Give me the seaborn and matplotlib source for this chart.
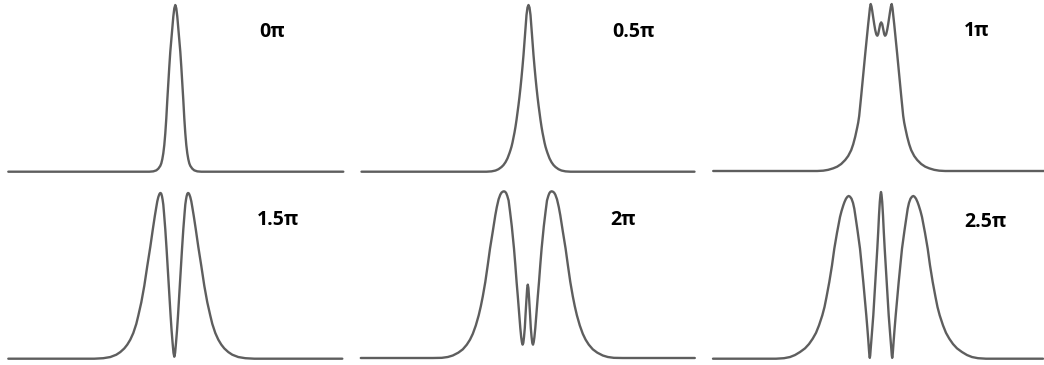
import pandas as pd
import matplotlib.pyplot as plt
import seaborn as sns

# Espectros normalizados para cada desfase no lineal
# x = desplazamiento de frecuencia (unidades arbitrarias), y = intensidad normalizada
x_0pi = [-167, -26, -22, -19, -17, -15, -14, -13, -12, -11, -10, -9, -8, -7, -6, -5, -4, -3, -2, -1,
         0,
         1, 2, 3, 4, 5, 6, 7, 8, 9, 10, 11, 12, 13, 14, 15, 17, 19, 22, 26, 168]
y_0pi = [0, 0, 0.002, 0.008, 0.018, 0.035, 0.05, 0.075, 0.11, 0.16, 0.23, 0.32, 0.43, 0.53, 0.63, 0.72, 0.79, 0.86, 0.93, 0.98,
         1.0,
         0.98, 0.93, 0.86, 0.79, 0.72, 0.63, 0.53, 0.43, 0.32, 0.23, 0.16, 0.11, 0.075, 0.05, 0.035, 0.018, 0.008, 0.002, 0, 0]

x_05pi = [-167, -42, -37, -33, -30, -27, -25, -23, -21, -19, -18, -17, -16, -15, -14, -13, -12, -11, -10, -9,
          -8, -7, -6, -5, -4, -3, -2, -1,
          0,
          1, 2, 3, 4, 5, 6, 7, 8, 9, 10, 11, 12, 13, 14, 15, 16, 17, 18, 19,
          21, 23, 25, 27, 30, 33, 37, 42, 166]
y_05pi = [0, 0, 0.002, 0.007, 0.015, 0.028, 0.04, 0.057, 0.08, 0.112, 0.13, 0.15, 0.175, 0.205, 0.235, 0.27, 0.31, 0.355, 0.40, 0.45,
          0.505, 0.565, 0.63, 0.70, 0.78, 0.86, 0.94, 0.985,
          1.0,
          0.985, 0.94, 0.86, 0.78, 0.70, 0.63, 0.565, 0.505, 0.45, 0.40, 0.355, 0.31, 0.27, 0.235, 0.205, 0.175, 0.15, 0.13, 0.112,
          0.08, 0.057, 0.04, 0.028, 0.015, 0.007, 0.002, 0, 0]

x_1pi = [-168, -64, -58, -53, -48, -44, -40, -36, -33, -30, -28, -26, -24, -23, -22, -21, -20, -18, -16, -14,
         -13, -12, -11.3, -10.5, -9.7, -9, -8, -7, -6, -5, -4.3, -3.8, -3, -2, -1,
         0,
         1, 2, 3, 3.8, 4.3, 5, 6, 7, 8, 9, 9.7, 10.5, 11.3, 12, 13,
         14, 16, 18, 20, 21, 22, 23, 24, 26, 28, 30, 33, 36, 40, 44, 48, 53, 58, 64, 163]
y_1pi = [0, 0, 0.002, 0.007, 0.016, 0.026, 0.042, 0.066, 0.09, 0.125, 0.16, 0.205, 0.26, 0.29, 0.33, 0.39, 0.45, 0.575, 0.70, 0.82,
         0.88, 0.935, 0.975, 1.0, 0.985, 0.96, 0.92, 0.88, 0.845, 0.82, 0.812, 0.81, 0.82, 0.85, 0.88,
         0.89,
         0.88, 0.85, 0.82, 0.81, 0.812, 0.82, 0.845, 0.88, 0.92, 0.96, 0.985, 1.0, 0.975, 0.935, 0.88,
         0.82, 0.70, 0.575, 0.45, 0.39, 0.33, 0.29, 0.26, 0.205, 0.16, 0.125, 0.09, 0.066, 0.042, 0.026, 0.016, 0.007, 0.002, 0, 0]

x_15pi = [-166, -80, -71, -64, -58, -54, -50, -47, -44, -41, -38, -36, -33, -30, -27, -24, -21.5, -19.5, -18, -17,
          -16, -15, -14.3, -13.7, -13, -12.3, -11.7, -11, -10.3, -9, -7.7, -6.7, -5.7, -4.7, -3.7, -2.7, -1.7, -0.8,
          0,
          0.8, 1.7, 2.7, 3.7, 4.7, 5.7, 6.7, 7.7, 9, 10.3, 11, 11.7, 12.3, 13, 13.7, 14.3, 15, 16,
          17, 18, 19.5, 21.5, 24, 27, 30, 33, 36, 38, 41, 44, 47, 50, 54, 58, 64, 71, 80, 168]
y_15pi = [0, 0, 0.003, 0.01, 0.024, 0.04, 0.062, 0.085, 0.115, 0.155, 0.21, 0.26, 0.34, 0.44, 0.56, 0.675, 0.78, 0.86, 0.915, 0.95,
          0.975, 0.992, 0.999, 1.0, 0.995, 0.98, 0.96, 0.93, 0.88, 0.78, 0.66, 0.56, 0.46, 0.36, 0.26, 0.17, 0.095, 0.035,
          0.012,
          0.035, 0.095, 0.17, 0.26, 0.36, 0.46, 0.56, 0.66, 0.78, 0.88, 0.93, 0.96, 0.98, 0.995, 1.0, 0.999, 0.992, 0.975,
          0.95, 0.915, 0.86, 0.78, 0.675, 0.56, 0.44, 0.34, 0.26, 0.21, 0.155, 0.115, 0.085, 0.062, 0.04, 0.024, 0.01, 0.003, 0, 0]

x_2pi = [-167, -95, -86, -80, -75, -69.5, -65, -61, -57.8, -55, -52, -49.1, -47, -45, -42.5, -40, -37.8, -35, -32.5, -31,
         -29.2, -27.5, -26.3, -25, -23.8, -22.6, -21.5, -20.5, -19.2, -17.8, -16, -13.8, -12.5, -11.2, -10, -8.5, -7.5, -6.6, -5.9, -5.2,
         -4.5, -3.8, -3, -2.3, -1.3, -0.6,
         0,
         0.6, 1.3, 2.3, 3, 3.8, 4.5,
         5.2, 5.9, 6.6, 7.5, 8.5, 10, 11.2, 12.5, 13.8, 16, 17.8, 19.2, 20.5, 21.5, 22.6, 23.8, 25, 26.3, 27.5, 29.2,
         31, 32.5, 35, 37.8, 40, 42.5, 45, 47, 49.1, 52, 55, 57.8, 61, 65, 69.5, 75, 80, 86, 95, 167]
y_2pi = [0, 0, 0.001, 0.006, 0.015, 0.032, 0.052, 0.08, 0.11, 0.145, 0.195, 0.256, 0.31, 0.37, 0.456, 0.56, 0.656, 0.76, 0.856, 0.905,
         0.952, 0.98, 0.992, 0.998, 1.0, 0.997, 0.988, 0.972, 0.945, 0.88, 0.79, 0.656, 0.56, 0.456, 0.37, 0.256, 0.18, 0.125, 0.095, 0.08,
         0.09, 0.125, 0.18, 0.256, 0.356, 0.42,
         0.44,
         0.42, 0.356, 0.256, 0.18, 0.125, 0.09,
         0.08, 0.095, 0.125, 0.18, 0.256, 0.37, 0.456, 0.56, 0.656, 0.79, 0.88, 0.945, 0.972, 0.988, 0.997, 1.0, 0.998, 0.992, 0.98, 0.952,
         0.905, 0.856, 0.76, 0.656, 0.56, 0.456, 0.37, 0.31, 0.256, 0.195, 0.145, 0.11, 0.08, 0.052, 0.032, 0.015, 0.006, 0.001, 0, 0]

x_25pi = [-168, -105, -97, -91, -86, -81, -76, -72, -68.3, -65, -62, -58.7, -56.5, -54.5, -51.7, -49, -46.7, -44, -41, -39.5,
          -37.7, -36.5, -35, -33.5, -32.3, -31, -29.5, -28, -26.7, -25.7, -23.5, -21, -19.5, -17.7, -16.2, -14.7, -13.6, -12.7,
          -12, -11.6, -11.2, -10.8, -10.3, -9.5, -8.6, -7.7, -6.7, -5.7, -4.7, -3.7, -2.8, -2, -1.2, -0.5,
          0,
          0.5, 1.2, 2, 2.8, 3.7, 4.7, 5.7, 6.7, 7.7, 8.6, 9.5, 10.3, 10.8, 11.2, 11.6, 12,
          12.7, 13.6, 14.7, 16.2, 17.7, 19.5, 21, 23.5, 25.7, 26.7, 28, 29.5, 31, 32.3, 33.5, 35, 36.5, 37.7,
          39.5, 41, 44, 46.7, 49, 51.7, 54.5, 56.5, 58.7, 62, 65, 68.3, 72, 76, 81, 86, 91, 97, 105, 162]
y_25pi = [0, 0, 0.003, 0.01, 0.022, 0.04, 0.062, 0.088, 0.12, 0.155, 0.2, 0.26, 0.31, 0.37, 0.46, 0.56, 0.66, 0.755, 0.85, 0.885,
          0.92, 0.94, 0.96, 0.972, 0.976, 0.972, 0.96, 0.935, 0.9, 0.86, 0.77, 0.66, 0.57, 0.46, 0.36, 0.26, 0.18, 0.11,
          0.05, 0.02, 0.005, 0.02, 0.06, 0.12, 0.19, 0.26, 0.36, 0.46, 0.56, 0.66, 0.76, 0.86, 0.94, 0.985,
          1.0,
          0.985, 0.94, 0.86, 0.76, 0.66, 0.56, 0.46, 0.36, 0.26, 0.19, 0.12, 0.06, 0.02, 0.005, 0.02, 0.05,
          0.11, 0.18, 0.26, 0.36, 0.46, 0.57, 0.66, 0.77, 0.86, 0.9, 0.935, 0.96, 0.972, 0.976, 0.972, 0.96, 0.94, 0.92,
          0.885, 0.85, 0.755, 0.66, 0.56, 0.46, 0.37, 0.31, 0.26, 0.2, 0.155, 0.12, 0.088, 0.062, 0.04, 0.022, 0.01, 0.003, 0, 0]

etiquetas = ["0π", "0.5π", "1π", "1.5π", "2π", "2.5π"]
curvas = [(x_0pi, y_0pi), (x_05pi, y_05pi), (x_1pi, y_1pi),
          (x_15pi, y_15pi), (x_2pi, y_2pi), (x_25pi, y_25pi)]

# Posición de cada panel en píxeles: centro x, línea base y, cima y
paneles = [(175.3, 171.7, 5), (528.5, 171.7, 5), (881.2, 171, 4),
           (174.3, 358.7, 193), (527.8, 358, 191.3), (881, 358.7, 192)]
# Posición de la etiqueta: x izquierda, línea base del texto
pos_etiquetas = [(259, 37), (612, 37), (964, 36), (257, 225), (610, 225), (964, 227)]

W, H = 1044, 365
sns.set_style("white")
plt.rcParams["font.family"] = ["Open Sans", "DejaVu Sans"]

fig = plt.figure(figsize=(W / 100, H / 100), dpi=100)

for (x, y), (cx, base, cima), etiqueta, (tx, ty) in zip(curvas, paneles, etiquetas, pos_etiquetas):
    ax = fig.add_axes([(cx - 175) / W, (H - base) / H, 350 / W, (base - cima) / H])
    df = pd.DataFrame({"frecuencia": x, "intensidad": y})
    sns.lineplot(x="frecuencia", y="intensidad", data=df, ax=ax, color="#5e5e5e",
                 linewidth=1.7, estimator=None, sort=False, clip_on=False)
    ax.set_xlim(-175, 175)
    ax.set_ylim(0, 1)
    ax.axis("off")
    fig.text(tx / W, 1 - ty / H, etiqueta, ha="left", va="baseline",
             fontsize=14, fontweight="bold", color="black")

fig.savefig("out.png", dpi=100)
